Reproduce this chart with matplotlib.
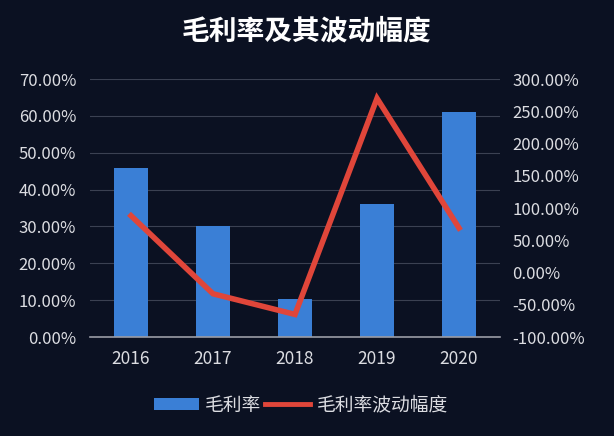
import matplotlib
matplotlib.use("Agg")
import matplotlib.pyplot as plt
from matplotlib.ticker import FuncFormatter, MultipleLocator
from matplotlib.patches import Patch
from matplotlib.lines import Line2D

plt.rcParams['font.family'] = ['Noto Sans CJK SC', 'DejaVu Sans']

years = ["2016", "2017", "2018", "2019", "2020"]
gross_margin = [45.9, 30.1, 10.2, 36.1, 61.0]          # %
margin_change = [88.0, -33.0, -65.0, 270.0, 69.0]       # %
title = "毛利率及其波动幅度"
bar_label = "毛利率"
line_label = "毛利率波动幅度"

bg = "#0b1122"
txt = "#dcdde2"
bar_color = "#3a7fd6"
line_color = "#e0463a"

fig = plt.figure(figsize=(6.14, 4.36), dpi=100, facecolor=bg)
ax = fig.add_axes([90/614, 1-337/436, 410/614, 258/436], facecolor=bg)
x = list(range(len(years)))
ax.bar(x, gross_margin, width=0.41, color=bar_color, zorder=2)
ax.set_xlim(-0.5, 4.5)
ax.set_ylim(0, 70)
ax.yaxis.set_major_locator(MultipleLocator(10))
ax.yaxis.set_major_formatter(FuncFormatter(lambda v, p: f"{v:.2f}%"))
ax.grid(axis='y', color="#3b4152", linewidth=0.8, zorder=0)
ax.set_xticks(x)
ax.set_xticklabels(years)
for s in ['top', 'right', 'left']:
    ax.spines[s].set_visible(False)
ax.spines['bottom'].set_color("#9a9ca5")
ax.spines['bottom'].set_linewidth(1.2)
ax.tick_params(axis='y', length=0, colors=txt, labelsize=12, pad=10)
ax.tick_params(axis='x', length=0, colors=txt, labelsize=12.5, pad=9)

ax2 = ax.twinx()
ax2.plot(x, margin_change, color=line_color, linewidth=4, zorder=3,
         solid_joinstyle='miter', clip_on=False)
ax2.set_ylim(-100, 300)
ax2.yaxis.set_major_locator(MultipleLocator(50))
ax2.yaxis.set_major_formatter(FuncFormatter(lambda v, p: f"{v:.2f}%"))
for s in ['top', 'right', 'left', 'bottom']:
    ax2.spines[s].set_visible(False)
ax2.tick_params(axis='y', length=0, colors=txt, labelsize=12, pad=9)

fig.text(0.5, 1-31/436, title, ha='center', va='center', color='white',
         fontsize=20, fontweight='bold')

handles = [Patch(facecolor=bar_color, edgecolor='none'),
           Line2D([0], [0], color=line_color, linewidth=3.5)]
leg = fig.legend(handles, [bar_label, line_label], loc='center',
                 bbox_to_anchor=(301/614, 1-405/436), ncol=2, frameon=False,
                 fontsize=13.5, handlelength=2.4, handleheight=0.55,
                 handletextpad=0.35, columnspacing=0.2, labelcolor=txt)

fig.savefig("out.png", dpi=100, facecolor=bg)
